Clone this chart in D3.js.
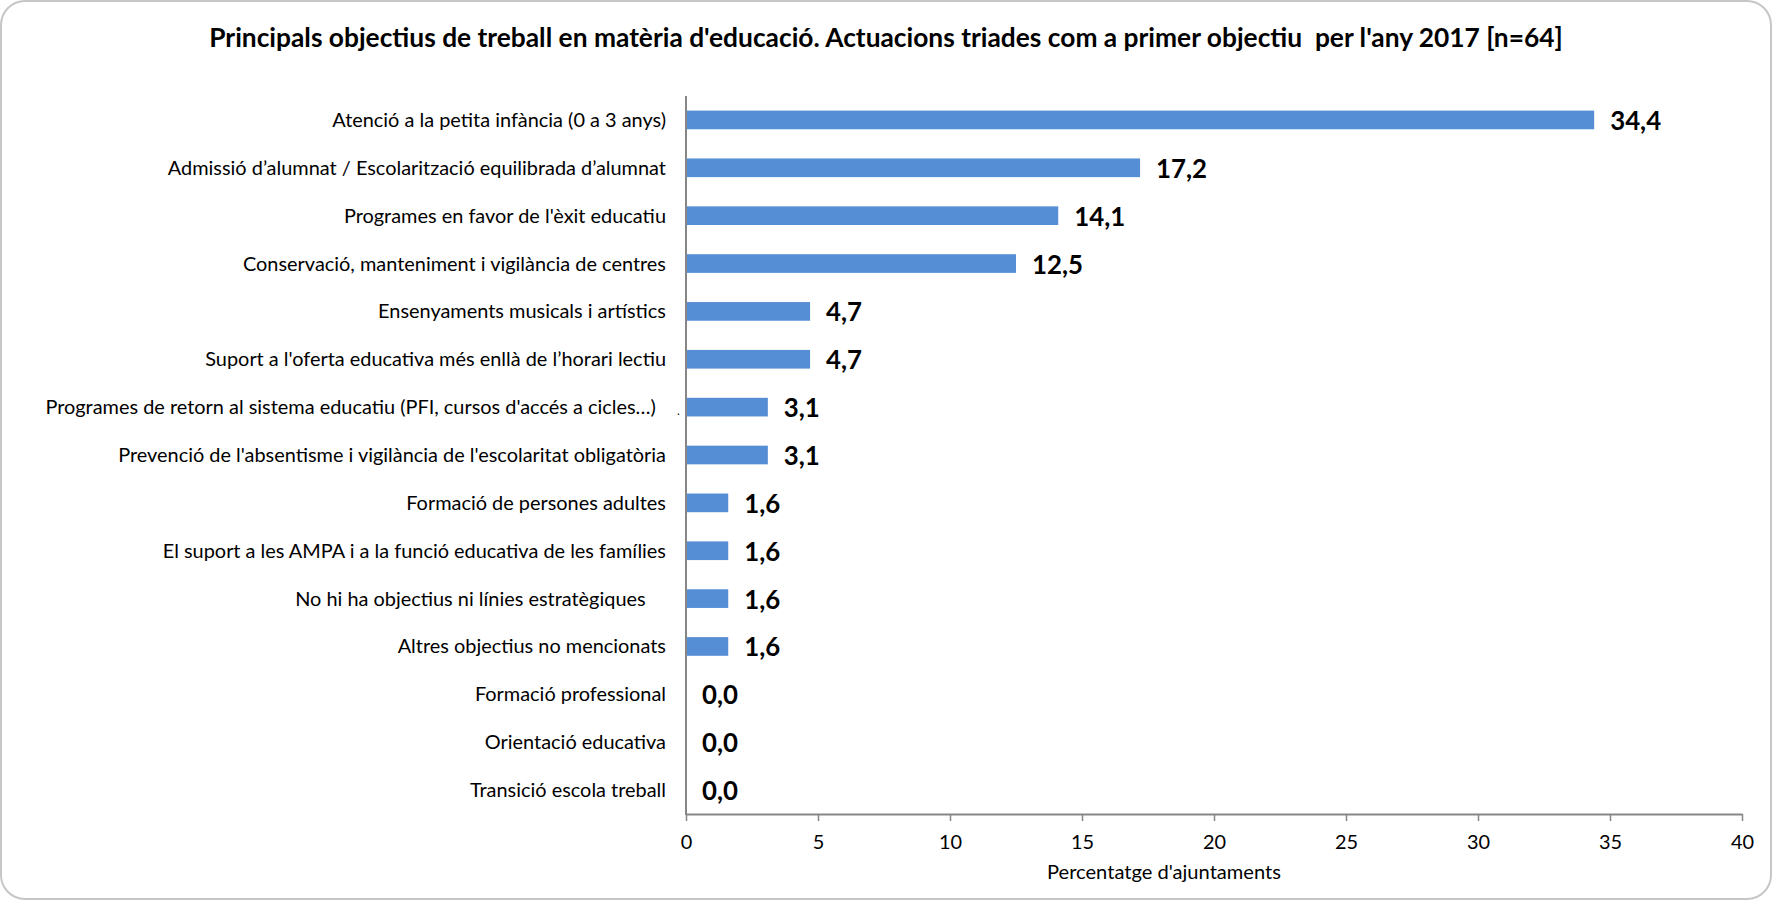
<!DOCTYPE html>
<html>
<head>
<meta charset="utf-8">
<script src="https://cdn.jsdelivr.net/npm/d3@7"></script>
<style>
  html, body { margin: 0; padding: 0; background: #fff; }
  svg { display: block; }
</style>
</head>
<body>
<svg id="chart" width="1773" height="901"></svg>
<script>
const categories = [
  "Atenció a la petita infància (0 a 3 anys)",
  "Admissió d’alumnat / Escolarització equilibrada d’alumnat",
  "Programes en favor de l'èxit educatiu",
  "Conservació, manteniment i vigilància de centres",
  "Ensenyaments musicals i artístics",
  "Suport a l'oferta educativa més enllà de l’horari lectiu",
  "Programes de retorn al sistema educatiu (PFI, cursos d'accés a cicles…)  ",
  "Prevenció de l'absentisme i vigilància de l'escolaritat obligatòria",
  "Formació de persones adultes",
  "El suport a les AMPA i a la funció educativa de les famílies",
  "No hi ha objectius ni línies estratègiques    ",
  "Altres objectius no mencionats",
  "Formació professional",
  "Orientació educativa",
  "Transició escola treball"
];
const values = [34.4, 17.2, 14.1, 12.5, 4.7, 4.7, 3.1, 3.1, 1.6, 1.6, 1.6, 1.6, 0.0, 0.0, 0.0];
const xTicks = [0, 5, 10, 15, 20, 25, 30, 35, 40];
const titleText = "Principals objectius de treball en matèria d'educació. Actuacions triades com a primer objectiu  per l'any 2017 [n=64]";
const xAxisTitle = "Percentatge d'ajuntaments";

const FONT = "Lato, 'Open Sans', sans-serif";
const svg = d3.select("#chart");

function fitSize(txt, weight, target) {
  const t = svg.append("text").attr("xml:space", "preserve")
    .style("font-family", FONT).style("font-weight", weight)
    .style("font-size", "100px").text(txt);
  const w = t.node().getComputedTextLength();
  t.remove();
  return 100 * target / w;
}

const titleSize = fitSize(titleText, 700, 1354);
const catSize = fitSize(categories[0], 400, 334);
const valSize = fitSize("34,4", 700, 51);
const axTitleSize = fitSize(xAxisTitle, 400, 234);

svg.append("rect")
  .attr("x", 1).attr("y", 1).attr("width", 1770).attr("height", 898)
  .attr("rx", 24).attr("ry", 24)
  .attr("fill", "#fff").attr("stroke", "#c6c6c6").attr("stroke-width", 2);

const pLeft = 686, pRight = 1742, pTop = 96, pBottom = 814;

const x = d3.scaleLinear().domain([0, 40]).range([pLeft, pRight]);
const y = d3.scaleBand().domain(categories).range([pTop, pBottom])
  .paddingInner(0.61).paddingOuter(0.305);

svg.append("text")
  .attr("x", 886).attr("y", 47).attr("text-anchor", "middle")
  .style("font-family", FONT).style("font-weight", 700)
  .style("font-size", titleSize + "px").attr("fill", "#000")
  .attr("xml:space", "preserve")
  .text(titleText);

svg.append("g").selectAll("rect").data(values).join("rect")
  .attr("x", x(0))
  .attr("y", (d, i) => y(categories[i]))
  .attr("width", d => x(d) - x(0))
  .attr("height", y.bandwidth())
  .attr("fill", "#558ed5");

svg.append("g").selectAll("text").data(values).join("text")
  .attr("x", d => x(d) + 16)
  .attr("y", (d, i) => y(categories[i]) + y.bandwidth() / 2 + 10)
  .style("font-family", FONT).style("font-weight", 700)
  .style("font-size", valSize + "px").attr("fill", "#000")
  .text(d => d3.format(".1f")(d).replace(".", ","));

const yAxis = d3.axisLeft(y).tickSize(0).tickPadding(20);
const gy = svg.append("g").attr("transform", `translate(${pLeft},0)`).call(yAxis);
gy.select(".domain").attr("stroke", "#868686").attr("stroke-width", 2)
  .attr("d", `M0,${pTop}V${pBottom + 1}`);
gy.selectAll(".tick text")
  .attr("xml:space", "preserve")
  .attr("dy", null).attr("y", 7)
  .style("font-family", FONT).style("font-size", catSize + "px")
  .attr("fill", "#000");

svg.append("text")
  .attr("x", 677).attr("y", 415)
  .style("font-family", FONT).style("font-size", "12px").attr("fill", "#000")
  .text(".");

const xAxis = d3.axisBottom(x).tickValues(xTicks).tickSize(7).tickSizeOuter(0).tickPadding(8)
  .tickFormat(d3.format("d"));
const gx = svg.append("g").attr("transform", `translate(0,${pBottom})`).call(xAxis);
gx.select(".domain").attr("stroke", "#868686").attr("stroke-width", 2);
gx.selectAll(".tick line").attr("stroke", "#868686").attr("stroke-width", 1.5);
gx.selectAll(".tick text")
  .attr("dy", null).attr("y", 35)
  .style("font-family", FONT).style("font-size", catSize + "px")
  .attr("fill", "#000");

svg.append("text")
  .attr("x", 1164).attr("y", 878.5).attr("text-anchor", "middle")
  .style("font-family", FONT).style("font-size", axTitleSize + "px")
  .attr("fill", "#000")
  .text(xAxisTitle);
</script>
</body>
</html>
